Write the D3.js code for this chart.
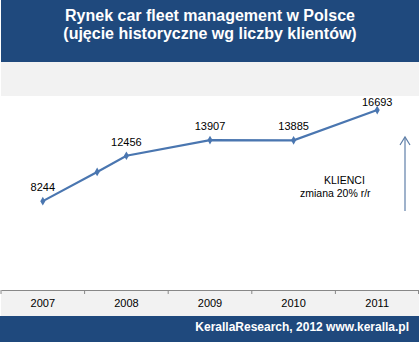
<!DOCTYPE html>
<html><head><meta charset="utf-8">
<script src="https://cdn.jsdelivr.net/npm/d3@7"></script>
<style>html,body{margin:0;padding:0;background:#fff;}svg{display:block;font-family:Arial,"Liberation Sans",sans-serif;}</style>
</head><body>
<svg id="c" width="419" height="342"></svg>
<script>
const titleLines = ["Rynek car fleet management w Polsce", "(ujęcie historyczne wg liczby klientów)"];
const years = ["2007", "2008", "2009", "2010", "2011"];
// position along category axis (index) and value for each line vertex
const pointPos = [0, 0.65, 1, 2, 3, 4];
const pointVal = [8244, 10950, 12456, 13907, 13885, 16693];
const pointLabel = ["8244", "", "12456", "13907", "13885", "16693"];
const annotation = ["KLIENCI", "zmiana 20% r/r"];
const footer = "KerallaResearch, 2012 www.keralla.pl";
const yMax = 18000;

const svg = d3.select("#c");
const W = 419, H = 342;
const plotLeft = 1, plotRight = 419, plotTop = 96, plotBottom = 290;

// bands
svg.append("rect").attr("x",1).attr("y",0).attr("width",W-1).attr("height",62).attr("fill","#1f497d");
svg.append("rect").attr("x",1).attr("y",62).attr("width",W-1).attr("height",34).attr("fill","#f2f2f2");
svg.append("rect").attr("x",1).attr("y",290).attr("width",W-1).attr("height",26).attr("fill","#f2f2f2");
svg.append("rect").attr("x",0).attr("y",316).attr("width",W).attr("height",26).attr("fill","#1f497d");

svg.selectAll("text.title").data(titleLines).join("text")
  .attr("x",210).attr("y",(d,i)=>21+i*18)
  .attr("text-anchor","middle").attr("fill","#fff")
  .attr("font-weight","bold").attr("font-size","16px").text(d=>d);

const xBand = d3.scaleBand().domain(years).range([plotLeft, plotRight]);
const xPos = d3.scaleLinear().domain([-0.5, years.length-0.5]).range([plotLeft, plotRight]);
const y = d3.scaleLinear().domain([0, yMax]).range([plotBottom, plotTop]);

// axis
const axis = svg.append("g").attr("transform",`translate(0,${plotBottom})`)
  .call(d3.axisBottom(xBand).tickSize(0).tickPadding(9));
axis.select(".domain").attr("stroke","#888");
axis.selectAll("text").attr("font-size","11px").attr("fill","#000").attr("font-family","Arial, 'Liberation Sans', sans-serif");
const bounds = years.map(d=>xBand(d)).concat([plotRight]);
svg.selectAll("line.tk").data(bounds).join("line")
  .attr("x1",d=>Math.min(d,418.5)).attr("x2",d=>Math.min(d,418.5))
  .attr("y1",plotBottom).attr("y2",plotBottom+4).attr("stroke","#888");

const pts = pointPos.map((p,i)=>({x:xPos(p), y:y(pointVal[i]), l:pointLabel[i]}));
const color = "#4a76b0";
svg.append("path").datum(pts)
  .attr("d", d3.line().x(d=>d.x).y(d=>d.y))
  .attr("fill","none").attr("stroke",color).attr("stroke-width",2.2);
svg.selectAll("path.m").data(pts).join("path")
  .attr("d", d3.symbol().type(d3.symbolDiamond).size(22))
  .attr("transform",d=>`translate(${d.x},${d.y})`).attr("fill",color);

svg.selectAll("text.lbl").data(pts.filter(d=>d.l)).join("text")
  .attr("x",d=>d.x).attr("y",d=>Math.max(d.y-10, plotTop+10))
  .attr("text-anchor","middle").attr("font-size","11px").attr("fill","#000").text(d=>d.l);

// annotation
svg.append("text").attr("x",324).attr("y",184).attr("font-size","10.5px").text(annotation[0]);
svg.append("text").attr("x",300).attr("y",197).attr("font-size","10.5px").text(annotation[1]);

// arrow
const ac = "#5f7fa8";
svg.append("line").attr("x1",405).attr("x2",405).attr("y1",137).attr("y2",211).attr("stroke",ac).attr("stroke-width",1.2);
svg.append("path").attr("d","M400,145 L405,137 L410,145").attr("fill","none").attr("stroke",ac).attr("stroke-width",1.2);

svg.append("text").attr("x",409).attr("y",331).attr("text-anchor","end")
  .attr("fill","#fff").attr("font-weight","bold").attr("font-size","12px").text(footer);
</script>
</body></html>
